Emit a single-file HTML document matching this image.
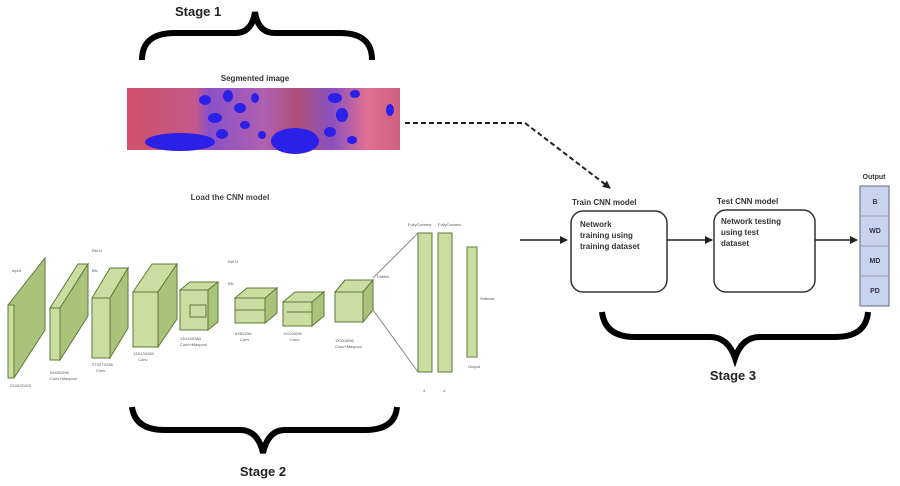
<!DOCTYPE html>
<html><head><meta charset="utf-8"><style>
html,body{margin:0;padding:0;background:#fff}
svg{display:block}
text{font-family:"Liberation Sans",sans-serif}
</style></head><body>
<svg width="900" height="486" viewBox="0 0 900 486" xmlns="http://www.w3.org/2000/svg">
<defs>
<marker id="ah" markerWidth="8" markerHeight="8" refX="7" refY="4" orient="auto" markerUnits="userSpaceOnUse"><path d="M0,0 L8,4 L0,8 z" fill="#222"/></marker>
<linearGradient id="img" x1="0" x2="1" y1="0" y2="0">
<stop offset="0" stop-color="#d0506a"/><stop offset="0.25" stop-color="#c45a8a"/>
<stop offset="0.3" stop-color="#8a50c8"/><stop offset="0.5" stop-color="#b060b0"/>
<stop offset="0.62" stop-color="#b0507a"/><stop offset="0.75" stop-color="#8a50c0"/>
<stop offset="0.88" stop-color="#e07090"/><stop offset="1" stop-color="#d06080"/>
</linearGradient>
</defs>

<text x="175" y="16" font-size="13" font-weight="bold" fill="#222">Stage 1</text>
<path d="M142,60 Q142,33 175,33 L235,33 Q252,33 255,12 Q258,33 275,33 L340,33 Q372,33 372,60" fill="none" stroke="#000" stroke-width="6"/>
<text x="255" y="81" font-size="8" font-weight="bold" fill="#333" text-anchor="middle">Segmented image</text>
<rect x="127" y="88" width="273" height="62" fill="url(#img)"/>
<g fill="#2a20e8">
<ellipse cx="180" cy="142" rx="35" ry="9"/>
<ellipse cx="295" cy="141" rx="24" ry="13"/>
<ellipse cx="205" cy="100" rx="6" ry="5"/><ellipse cx="215" cy="118" rx="7" ry="5"/>
<ellipse cx="228" cy="96" rx="5" ry="6"/><ellipse cx="240" cy="108" rx="6" ry="5"/>
<ellipse cx="222" cy="134" rx="6" ry="5"/><ellipse cx="245" cy="125" rx="5" ry="4"/>
<ellipse cx="255" cy="98" rx="4" ry="5"/><ellipse cx="262" cy="135" rx="4" ry="4"/>
<ellipse cx="335" cy="98" rx="7" ry="5"/><ellipse cx="342" cy="115" rx="6" ry="7"/>
<ellipse cx="330" cy="132" rx="6" ry="5"/><ellipse cx="352" cy="140" rx="5" ry="4"/>
<ellipse cx="355" cy="94" rx="5" ry="4"/><ellipse cx="390" cy="110" rx="4" ry="6"/>
</g>

<path d="M405,123 L525,123 L610,188" fill="none" stroke="#222" stroke-width="2" stroke-dasharray="5,3" marker-end="url(#ah)"/>

<text x="230" y="200" font-size="8" font-weight="bold" fill="#444" text-anchor="middle">Load the CNN model</text>

<g stroke="#5d7a3a" stroke-width="1">
<polygon points="8,305 45,258 45,330 14,378 8,378" fill="#a9c47a"/>
<polygon points="8,305 14,305 14,378 8,378" fill="#c9dea0"/>
<polygon points="50,308 60,308 88,264 78,264" fill="#c9dea0"/>
<polygon points="60,308 88,264 88,316 60,360" fill="#a9c47a"/>
<rect x="50" y="308" width="10" height="52" fill="#c9dea0"/>
<polygon points="92,298 110,298 128,268 110,268" fill="#c9dea0"/>
<polygon points="110,298 128,268 128,328 110,358" fill="#a9c47a"/>
<rect x="92" y="298" width="18" height="60" fill="#c9dea0"/>
<polygon points="133,292 158,292 177,264 152,264" fill="#c9dea0"/>
<polygon points="158,292 177,264 177,319 158,347" fill="#a9c47a"/>
<rect x="133" y="292" width="25" height="55" fill="#c9dea0"/>
<polygon points="180,290 208,290 218,282 190,282" fill="#c9dea0"/>
<polygon points="208,290 218,282 218,322 208,330" fill="#a9c47a"/>
<rect x="180" y="290" width="28" height="40" fill="#c9dea0"/>
<rect x="190" y="305" width="16" height="12" fill="#c9dea0"/>
<polygon points="235,298 265,298 277,288 247,288" fill="#c9dea0"/>
<polygon points="265,298 277,288 277,313 265,323" fill="#a9c47a"/>
<rect x="235" y="298" width="30" height="25" fill="#c9dea0"/>
<line x1="235" y1="310" x2="265" y2="310"/>
<polygon points="283,302 312,302 324,292 295,292" fill="#c9dea0"/>
<polygon points="312,302 324,292 324,316 312,326" fill="#a9c47a"/>
<rect x="283" y="302" width="29" height="24" fill="#c9dea0"/>
<line x1="287" y1="312" x2="312" y2="312"/>
<polygon points="335,292 363,292 373,280 345,280" fill="#c9dea0"/>
<polygon points="363,292 373,280 373,310 363,322" fill="#a9c47a"/>
<rect x="335" y="292" width="28" height="30" fill="#c9dea0"/>
<line x1="373" y1="278" x2="418" y2="233" stroke="#888"/>
<line x1="373" y1="310" x2="418" y2="372" stroke="#888"/>
<rect x="418" y="233" width="14" height="139" fill="#c9dea0"/>
<rect x="438" y="233" width="14" height="139" fill="#c9dea0"/>
<rect x="467" y="247" width="10" height="110" fill="#c9dea0"/>
</g>
<g font-size="4" fill="#555">
<text x="12" y="272">Input</text><text x="10" y="387">224X224X3</text>
<text x="50" y="374">55X55X96</text><text x="50" y="380">Conv+Maxpool</text>
<text x="92" y="252">ReLU</text><text x="92" y="272">BN</text>
<text x="92" y="366">27X27X256</text><text x="96" y="372">Conv</text>
<text x="133" y="355">13X13X384</text><text x="138" y="361">Conv</text>
<text x="180" y="340">13X13X384</text><text x="180" y="346">Conv+Maxpool</text>
<text x="228" y="263">ReLU</text><text x="228" y="285">BN</text>
<text x="235" y="335">6X6X256</text><text x="240" y="341">Conv</text>
<text x="283" y="335">1X1X4096</text><text x="290" y="341">Conv</text>
<text x="335" y="342">1X1X4096</text><text x="335" y="348">Conv+Maxpool</text>
<text x="377" y="278">Flatten</text>
<text x="408" y="226">FullyConnect</text><text x="438" y="226">FullyConnect</text>
<text x="480" y="300">Softmax</text><text x="468" y="368">Output</text>
<text x="423" y="392">4</text><text x="443" y="392">4</text>
</g>

<path d="M132,407 Q135,430 165,430 L240,430 Q258,430 263,453 Q268,430 285,430 L365,430 Q395,430 397,407" fill="none" stroke="#000" stroke-width="6"/>
<text x="263" y="476" font-size="13" font-weight="bold" fill="#222" text-anchor="middle">Stage 2</text>

<line x1="520" y1="240" x2="567" y2="240" stroke="#222" stroke-width="1.5" marker-end="url(#ah)"/>
<text x="572" y="205" font-size="8" font-weight="bold" fill="#333">Train CNN model</text>
<rect x="571" y="211" width="96" height="81" rx="12" fill="#fff" stroke="#333" stroke-width="1.5"/>
<text font-size="8" font-weight="bold" fill="#333"><tspan x="580" y="227">Network</tspan><tspan x="580" y="238">training using</tspan><tspan x="580" y="249">training dataset</tspan></text>
<line x1="667" y1="240" x2="712" y2="240" stroke="#222" stroke-width="1.5" marker-end="url(#ah)"/>
<text x="717" y="204" font-size="8" font-weight="bold" fill="#333">Test CNN model</text>
<rect x="714" y="210" width="101" height="82" rx="12" fill="#fff" stroke="#333" stroke-width="1.5"/>
<text font-size="8" font-weight="bold" fill="#333"><tspan x="721" y="224">Network testing</tspan><tspan x="721" y="235">using test</tspan><tspan x="721" y="246">dataset</tspan></text>
<line x1="815" y1="240" x2="857" y2="240" stroke="#222" stroke-width="1.5" marker-end="url(#ah)"/>
<text x="874" y="179" font-size="7" font-weight="bold" fill="#333" text-anchor="middle">Output</text>
<rect x="860" y="186" width="29" height="120" fill="#c8d4ee" stroke="#667" stroke-width="1"/>
<g stroke="#99a" stroke-width="1"><line x1="860" y1="216" x2="889" y2="216"/><line x1="860" y1="246" x2="889" y2="246"/><line x1="860" y1="276" x2="889" y2="276"/></g>
<g font-size="7" font-weight="bold" fill="#334" text-anchor="middle">
<text x="875" y="204">B</text><text x="875" y="233">WD</text><text x="875" y="263">MD</text><text x="875" y="293">PD</text></g>

<path d="M602,312 Q605,337 635,337 L710,337 Q728,337 735,358 Q742,337 760,337 L835,337 Q866,337 868,312" fill="none" stroke="#000" stroke-width="6"/>
<text x="733" y="380" font-size="13" font-weight="bold" fill="#222" text-anchor="middle">Stage 3</text>
</svg>
</body></html>
